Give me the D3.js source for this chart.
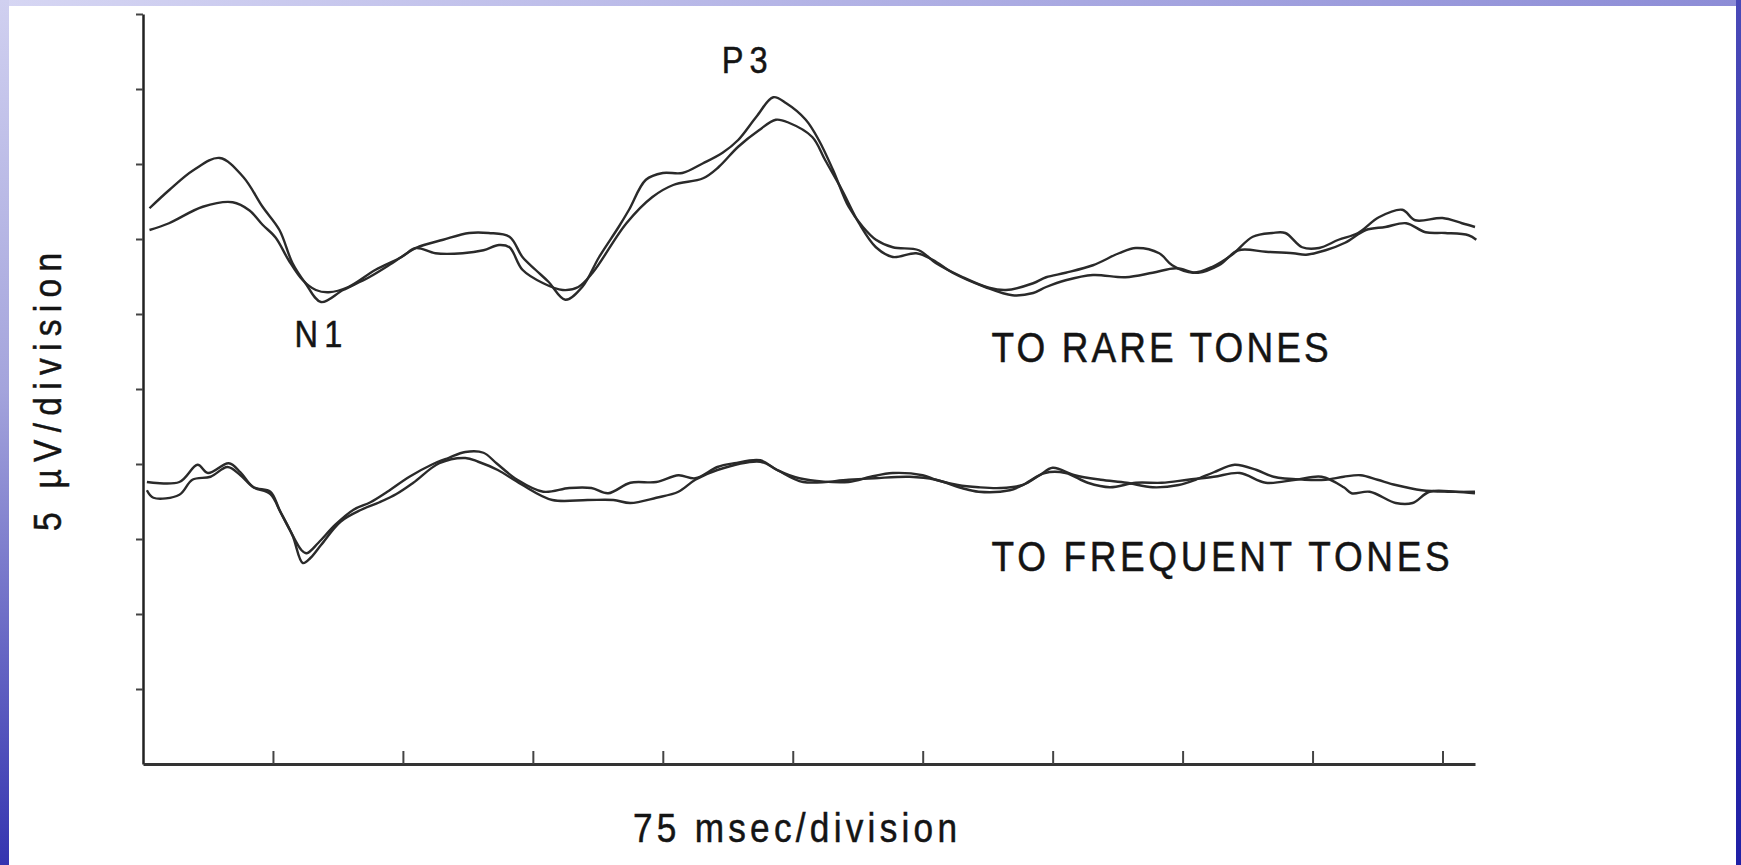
<!DOCTYPE html>
<html>
<head>
<meta charset="utf-8">
<script src="https://cdn.jsdelivr.net/npm/d3@7"></script>
<style>
  html, body { margin: 0; padding: 0; background: #fff; }
  svg { display: block; }
  .lbl { font-family: "Liberation Sans", Arial, Helvetica, sans-serif; fill: #141414; stroke: #141414; stroke-width: 0.5; }
</style>
</head>
<body>
<svg id="chart"></svg>
<script>
// ERP traces. Units: x = time divisions (75 ms each), y = amplitude divisions (5 µV each)
const xTicks = [1, 2, 3, 4, 5, 6, 7, 8, 9, 10];
const yTicks = [1, 2, 3, 4, 5, 6, 7, 8, 9, 10];

const rareA = [
  [0.05,7.41],[0.2,7.65],[0.39,7.92],[0.59,8.08],[0.77,7.83],[0.92,7.43],[1.05,7.12],[1.15,6.68],
  [1.25,6.41],[1.37,6.16],[1.54,6.32],[1.74,6.49],[1.92,6.68],[2.1,6.88],[2.31,6.99],[2.51,7.08],
  [2.66,7.08],[2.82,7.03],[2.92,6.76],[3.02,6.59],[3.12,6.43],[3.25,6.19],[3.38,6.36],[3.51,6.76],
  [3.66,7.16],[3.74,7.39],[3.87,7.79],[4.0,7.88],[4.15,7.88],[4.31,8.01],[4.46,8.15],[4.58,8.32],
  [4.72,8.63],[4.85,8.89],[4.95,8.81],[5.1,8.59],[5.2,8.32],[5.31,7.92],[5.43,7.43],[5.54,7.16],
  [5.64,6.99],[5.77,6.89],[5.97,6.85],[6.1,6.68],[6.31,6.49],[6.51,6.35],[6.64,6.32],[6.85,6.41],
  [6.95,6.49],[7.1,6.55],[7.31,6.65],[7.51,6.81],[7.64,6.88],[7.82,6.81],[7.92,6.65],[8.08,6.55],
  [8.23,6.63],[8.38,6.79],[8.54,7.03],[8.69,7.08],[8.79,7.08],[8.92,6.89],[9.05,6.88],[9.2,6.99],
  [9.35,7.08],[9.51,7.29],[9.69,7.39],[9.79,7.25],[10.0,7.28],[10.15,7.21],[10.25,7.16]
];
const rareB = [
  [0.05,7.12],[0.2,7.21],[0.46,7.43],[0.69,7.49],[0.82,7.38],[0.92,7.19],[1.02,7.02],[1.12,6.72],
  [1.23,6.45],[1.33,6.32],[1.43,6.29],[1.58,6.36],[1.79,6.59],[1.99,6.76],[2.1,6.88],[2.25,6.81],
  [2.46,6.81],[2.62,6.85],[2.74,6.92],[2.82,6.89],[2.92,6.59],[3.08,6.41],[3.23,6.32],[3.35,6.36],
  [3.46,6.55],[3.72,7.21],[3.92,7.56],[4.08,7.72],[4.31,7.81],[4.43,7.96],[4.58,8.23],[4.74,8.45],
  [4.87,8.59],[4.97,8.55],[5.15,8.36],[5.25,8.05],[5.38,7.65],[5.51,7.21],[5.64,6.89],[5.77,6.76],
  [5.95,6.81],[6.08,6.72],[6.23,6.55],[6.48,6.36],[6.69,6.25],[6.85,6.28],[6.95,6.36],[7.1,6.45],
  [7.31,6.52],[7.56,6.49],[7.77,6.55],[7.95,6.61],[8.12,6.55],[8.28,6.65],[8.43,6.85],[8.64,6.83],
  [8.85,6.81],[8.95,6.79],[9.1,6.85],[9.25,6.95],[9.41,7.12],[9.56,7.16],[9.72,7.21],[9.87,7.09],
  [10.02,7.08],[10.2,7.05],[10.26,6.99]
];
const freqA = [
  [0.03,3.76],[0.28,3.76],[0.42,3.99],[0.5,3.88],[0.66,4.01],[0.75,3.89],[0.85,3.69],[0.98,3.63],
  [1.05,3.39],[1.13,3.12],[1.22,2.85],[1.26,2.81],[1.35,2.95],[1.48,3.19],[1.62,3.39],[1.75,3.49],
  [1.88,3.63],[2.05,3.83],[2.22,3.99],[2.35,4.08],[2.48,4.16],[2.62,4.15],[2.72,4.01],[2.88,3.79],
  [3.08,3.63],[3.28,3.68],[3.45,3.68],[3.58,3.61],[3.75,3.75],[3.95,3.76],[4.12,3.85],[4.25,3.81],
  [4.42,3.96],[4.55,4.01],[4.75,4.05],[4.88,3.92],[5.05,3.81],[5.43,3.76],[5.6,3.83],[5.77,3.88],
  [6.0,3.85],[6.1,3.79],[6.27,3.72],[6.43,3.69],[6.6,3.68],[6.77,3.72],[6.9,3.85],[7.0,3.95],
  [7.17,3.85],[7.37,3.79],[7.57,3.75],[7.77,3.69],[7.97,3.72],[8.1,3.79],[8.24,3.89],[8.4,3.99],
  [8.57,3.92],[8.7,3.83],[8.94,3.79],[9.1,3.79],[9.24,3.83],[9.37,3.85],[9.5,3.79],[9.64,3.72],
  [9.84,3.65],[10.04,3.63],[10.25,3.63]
];
const freqB = [
  [0.03,3.65],[0.08,3.55],[0.28,3.59],[0.38,3.79],[0.52,3.83],[0.65,3.96],[0.75,3.85],[0.85,3.69],
  [0.98,3.6],[1.06,3.35],[1.15,3.05],[1.23,2.68],[1.29,2.75],[1.37,2.92],[1.52,3.23],[1.68,3.39],
  [1.82,3.49],[1.95,3.6],[2.08,3.75],[2.28,4.01],[2.48,4.08],[2.58,4.03],[2.73,3.92],[2.91,3.73],
  [3.15,3.52],[3.42,3.52],[3.62,3.52],[3.75,3.48],[3.95,3.55],[4.12,3.63],[4.25,3.79],[4.42,3.92],
  [4.75,4.03],[4.88,3.92],[5.08,3.76],[5.43,3.79],[5.63,3.81],[5.9,3.83],[6.1,3.79],[6.3,3.68],
  [6.43,3.63],[6.67,3.65],[6.77,3.72],[6.94,3.88],[7.1,3.88],[7.27,3.75],[7.44,3.69],[7.64,3.75],
  [7.84,3.75],[8.04,3.79],[8.24,3.83],[8.44,3.88],[8.64,3.75],[8.87,3.79],[9.07,3.83],[9.24,3.69],
  [9.3,3.61],[9.44,3.63],[9.64,3.48],[9.77,3.48],[9.9,3.63],[10.1,3.63],[10.25,3.61]
];

// peak labels and condition labels, placed in data units
const peakLabels = [
  { text: 'P3', x: 4.63, y: 9.21, len: 46 },
  { text: 'N1', x: 1.35, y: 5.56, len: 48 }
];
const condLabels = [
  { text: 'TO RARE TONES', x: 6.53, y: 5.36, len: 337 },
  { text: 'TO FREQUENT TONES', x: 6.53, y: 2.57, len: 458 }
];

const W = 1741, H = 865;
const SQ = 0.88; // horizontal squeeze, the scan uses a condensed face
const svg = d3.select('#chart').attr('width', W).attr('height', H);

// slide frame: blue strips left, top and right behind a white page
const defs = svg.append('defs');
function grad(id, x2, y2, stops) {
  const g = defs.append('linearGradient').attr('id', id)
    .attr('x1', '0%').attr('y1', '0%').attr('x2', x2).attr('y2', y2);
  stops.forEach(([o, c]) => g.append('stop').attr('offset', o).attr('stop-color', c));
}
grad('gTop', '100%', '0%', [['0%', '#d6d6f3'], ['100%', '#8c8cd6']]);
grad('gLeft', '0%', '100%', [['0%', '#d0d0f0'], ['45%', '#a4a4dc'], ['100%', '#3434b0']]);
grad('gRight', '0%', '100%', [['0%', '#4a4ab8'], ['100%', '#2020a6']]);

svg.append('rect').attr('width', W).attr('height', H).attr('fill', '#fff');
svg.append('rect').attr('x', 0).attr('y', 0).attr('width', W).attr('height', 6).attr('fill', 'url(#gTop)');
svg.append('rect').attr('x', 0).attr('y', 0).attr('width', 9).attr('height', H).attr('fill', 'url(#gLeft)');
svg.append('rect').attr('x', 1736).attr('y', 0).attr('width', 5).attr('height', H).attr('fill', 'url(#gRight)');

const x = d3.scaleLinear().domain([0, 10.25]).range([143, 1475]);
const y = d3.scaleLinear().domain([0, 10]).range([764, 14]);

// axes
const yAxis = svg.append('g').attr('transform', `translate(${x(0)},0)`)
  .call(d3.axisLeft(y).tickValues(yTicks).tickSize(7).tickSizeOuter(0).tickFormat(''));
const xAxis = svg.append('g').attr('transform', `translate(0,${y(0)})`)
  .call(d3.axisBottom(x).tickValues(xTicks).tickSize(-13).tickSizeOuter(0).tickFormat(''));
yAxis.select('.domain').attr('stroke', '#222').attr('stroke-width', 2.5);
xAxis.select('.domain').attr('stroke', '#333').attr('stroke-width', 3);
svg.selectAll('.tick line').attr('stroke', '#444').attr('stroke-width', 2);

// traces
const line = d3.line().x(d => x(d[0])).y(d => y(d[1])).curve(d3.curveCatmullRom.alpha(0.5));
[rareA, rareB, freqA, freqB].forEach(s => {
  svg.append('path').datum(s)
    .attr('d', line)
    .attr('fill', 'none')
    .attr('stroke', '#2a2a2a')
    .attr('stroke-width', 2.4)
    .attr('stroke-linejoin', 'round');
});

// labels (squeezed horizontally, then spread to the scan's width)
function label(text, tx, ty, size, len, anchor, rot) {
  svg.append('text').attr('class', 'lbl')
    .attr('transform', `translate(${tx},${ty})${rot ? ' rotate(-90)' : ''} scale(${SQ},1)`)
    .attr('text-anchor', anchor)
    .attr('font-size', size)
    .attr('textLength', len / SQ)
    .attr('lengthAdjust', 'spacing')
    .text(text);
}

peakLabels.forEach(d => label(d.text, x(d.x), y(d.y), 37, d.len, 'middle'));
condLabels.forEach(d => label(d.text, x(d.x), y(d.y), 42, d.len, 'start'));
label('75 msec/division', 633, 842, 40, 324, 'start');
label('5 \u00b5V/division', 61, 531, 38, 278, 'start', true);
</script>
</body>
</html>
